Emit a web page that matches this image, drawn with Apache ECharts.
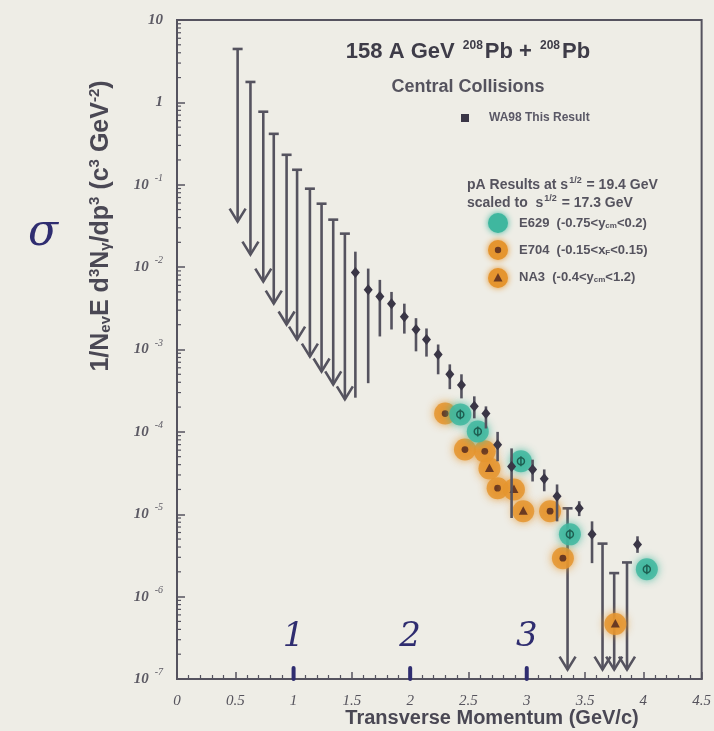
<!DOCTYPE html>
<html>
<head>
<meta charset="utf-8">
<script src="https://cdn.jsdelivr.net/npm/echarts@6/dist/echarts.min.js"></script>
<style>
html, body { margin: 0; padding: 0; background: #eeede6; }
#chart { width: 714px; height: 731px; }
</style>
</head>
<body>
<div id="chart"></div>
<script>
// axis ticks
const xTicks = [0, 0.5, 1, 1.5, 2, 2.5, 3, 3.5, 4, 4.5]
const yDecades = [-7, -6, -5, -4, -3, -2, -1, 0]
const minorMult = [2, 3, 4, 5, 6, 7, 8, 9]

// WA98 upper limits at low pT: top of bar, arrow tip
const limPt = [0.52, 0.63, 0.74, 0.83, 0.94, 1.03, 1.14, 1.24, 1.34, 1.44]
const limTop = [4.45, 1.77, 0.77, 0.415, 0.231, 0.152, 0.0896, 0.0589, 0.0377, 0.0255]
const limTip = [0.0357, 0.0142, 0.00667, 0.00361, 0.00201, 0.00132, 0.00082, 0.00054, 0.000377, 0.000248]

// WA98 measured points with error bars
const wa98Pt = [1.53, 1.64, 1.74, 1.84, 1.95, 2.05, 2.14, 2.24, 2.34, 2.44, 2.55, 2.65, 2.75, 2.87, 3.05, 3.15, 3.26, 3.45, 3.56, 3.95]
const wa98Y = [8.6e-3, 5.3e-3, 4.4e-3, 3.6e-3, 2.5e-3, 1.75e-3, 1.32e-3, 8.7e-4, 5.0e-4, 3.7e-4, 2.04e-4, 1.67e-4, 7.0e-5, 3.8e-5, 3.5e-5, 2.7e-5, 1.65e-5, 1.18e-5, 5.7e-6, 4.3e-6]
const wa98Hi = [1.54e-2, 9.6e-3, 7.0e-3, 5.0e-3, 3.6e-3, 2.4e-3, 1.8e-3, 1.15e-3, 6.6e-4, 5.0e-4, 2.7e-4, 2.04e-4, 1.0e-4, 6.3e-5, 4.6e-5, 3.5e-5, 2.3e-5, 1.44e-5, 8.2e-6, 5.4e-6]
const wa98Lo = [2.6e-4, 3.9e-4, 1.44e-3, 1.75e-3, 1.56e-3, 9.5e-4, 8.2e-4, 5.0e-4, 3.3e-4, 2.55e-4, 1.46e-4, 1.1e-4, 4.4e-5, 9.0e-6, 2.5e-5, 1.9e-5, 8.2e-6, 9.5e-6, 2.55e-6, 3.4e-6]

// WA98 upper limits at high pT (down to the axis)
const hiLimPt = [3.35, 3.65, 3.75, 3.86]
const hiLimTop = [1.18e-5, 4.4e-6, 1.93e-6, 2.6e-6]
const hiLimTip = [1.3e-7, 1.3e-7, 1.3e-7, 1.3e-7]

// scaled pA results
const e629Pt = [2.43, 2.58, 2.95, 3.37, 4.03]
const e629Y = [1.63e-4, 1.01e-4, 4.4e-5, 5.7e-6, 2.15e-6]
const e704Pt = [2.30, 2.47, 2.64, 2.75, 3.20, 3.31]
const e704Y = [1.67e-4, 6.1e-5, 5.8e-5, 2.07e-5, 1.09e-5, 2.93e-6]
const na3Pt = [2.68, 2.89, 2.97, 3.76]
const na3Y = [3.6e-5, 2.0e-5, 1.09e-5, 4.65e-7]

// handwritten marks on the x axis
const handPt = [1, 2, 3]
const handText = ["1", "2", "3"]

const ink = "#55535f"
const dark = "#3a3646"
const teal = "#3fb79f"
const orange = "#e5952f"
const pen = "#2f2d70"
const txt = "#4a4854"

const zip = (...arrs) => arrs[0].map((_, i) => arrs.map(a => a[i]))

const yMinor = []
yDecades.forEach(d => minorMult.forEach(m => yMinor.push([0, m * Math.pow(10, d)])))

const renderLimit = (params, api) => {
  const x = api.value(0)
  const top = api.coord([x, api.value(1)])
  const tip = api.coord([x, api.value(2)])
  const st = { stroke: ink, lineWidth: 2.6, fill: null }
  return {
    type: "group",
    children: [
      { type: "line", shape: { x1: top[0], y1: top[1], x2: tip[0], y2: tip[1] }, style: st },
      { type: "line", shape: { x1: top[0] - 5, y1: top[1], x2: top[0] + 5, y2: top[1] }, style: st },
      { type: "polyline", shape: { points: [[tip[0] - 8, tip[1] - 13], [tip[0], tip[1]], [tip[0] + 8, tip[1] - 13]] }, style: st },
    ],
  }
}

const renderPoint = (params, api) => {
  const x = api.value(0)
  const p = api.coord([x, api.value(1)])
  const hi = api.coord([x, api.value(2)])
  const lo = api.coord([x, api.value(3)])
  return {
    type: "group",
    children: [
      { type: "line", shape: { x1: hi[0], y1: hi[1], x2: lo[0], y2: lo[1] }, style: { stroke: ink, lineWidth: 2.6 } },
      { type: "polygon", shape: { points: [[p[0], p[1] - 5.5], [p[0] + 4.5, p[1]], [p[0], p[1] + 5.5], [p[0] - 4.5, p[1]]] }, style: { fill: dark } },
    ],
  }
}

const makeBlob = (color, inner) => (params, api) => {
  const p = api.coord([api.value(0), api.value(1)])
  const kids = [
    { type: "circle", shape: { cx: p[0], cy: p[1], r: 11 }, style: { fill: color, opacity: 0.85, shadowBlur: 8, shadowColor: color } },
  ]
  if (inner === "dot") {
    kids.push({ type: "circle", shape: { cx: p[0], cy: p[1], r: 3.4 }, style: { fill: "#6a3a22" } })
  } else if (inner === "tri") {
    kids.push({ type: "polygon", shape: { points: [[p[0], p[1] - 5], [p[0] + 4.5, p[1] + 3.5], [p[0] - 4.5, p[1] + 3.5]] }, style: { fill: "#6a3a22" } })
  } else {
    kids.push({ type: "circle", shape: { cx: p[0], cy: p[1], r: 3.5 }, style: { fill: null, stroke: "#1f5f52", lineWidth: 1.5 } })
    kids.push({ type: "line", shape: { x1: p[0], y1: p[1] - 5, x2: p[0], y2: p[1] + 5 }, style: { stroke: "#1f5f52", lineWidth: 1.5 } })
  }
  return { type: "group", children: kids }
}

const renderMinor = (params, api) => {
  const p = api.coord([0, api.value(1)])
  return { type: "line", shape: { x1: p[0], y1: p[1], x2: p[0] + 4, y2: p[1] }, style: { stroke: ink, lineWidth: 1.2 } }
}

const renderHand = (params, api) => {
  const p = api.coord([api.value(0), 1e-7])
  return {
    type: "group",
    children: [
      { type: "rect", shape: { x: p[0] - 2, y: p[1] - 13, width: 4, height: 15, r: 2 }, style: { fill: pen } },
      {
        type: "text",
        style: {
          x: p[0], y: p[1] - 42, text: handText[params.dataIndex], align: "center", verticalAlign: "middle",
          font: "italic 34px 'DejaVu Serif'", fill: pen,
        },
      },
    ],
  }
}

const chart = echarts.init(document.getElementById("chart"))

const supLabel = v => {
  const e = Math.round(Math.log10(v))
  if (e === 1) return "{b|10}"
  if (e === 0) return "{b|1}"
  return "{b|10}{s|" + e + "}"
}

const option = {
  backgroundColor: "#eeede6",
  animation: false,
  grid: { left: 177, right: 12, top: 20, bottom: 52, show: true, borderColor: ink, borderWidth: 2 },
  xAxis: {
    type: "value", min: 0, max: 4.5, interval: 0.5,
    axisLine: { lineStyle: { color: ink, width: 2 } },
    axisTick: { inside: true, length: 7, lineStyle: { color: ink, width: 1.5 } },
    minorTick: { show: true, splitNumber: 5, length: 4, lineStyle: { color: ink, width: 1.2 } },
    splitLine: { show: false },
    axisLabel: {
      margin: 15, color: "#55535c", fontFamily: "Liberation Serif", fontStyle: "italic", fontSize: 15,
      formatter: v => String(v),
    },
  },
  yAxis: {
    type: "log", logBase: 10, min: 1e-7, max: 10, splitNumber: 8,
    axisLine: { lineStyle: { color: ink, width: 2 } },
    axisTick: { inside: true, length: 8, lineStyle: { color: ink, width: 1.5 } },
    splitLine: { show: false },
    axisLabel: {
      margin: 14, formatter: supLabel,
      rich: {
        b: { color: "#5c5a64", fontFamily: "Liberation Serif", fontStyle: "italic", fontWeight: "bold", fontSize: 15 },
        s: { color: "#5c5a64", fontFamily: "Liberation Serif", fontStyle: "italic", fontSize: 10, padding: [0, 0, 13, 6] },
      },
    },
  },
  series: [
    { type: "custom", name: "minor", renderItem: renderMinor, data: yMinor, clip: true, silent: true },
    { type: "custom", name: "limits", renderItem: renderLimit, data: zip(limPt, limTop, limTip) },
    { type: "custom", name: "hiLimits", renderItem: renderLimit, data: zip(hiLimPt, hiLimTop, hiLimTip) },
    { type: "custom", name: "E704", renderItem: makeBlob(orange, "dot"), data: zip(e704Pt, e704Y), z: 3 },
    { type: "custom", name: "NA3", renderItem: makeBlob(orange, "tri"), data: zip(na3Pt, na3Y), z: 3 },
    { type: "custom", name: "E629", renderItem: makeBlob(teal, "phi"), data: zip(e629Pt, e629Y), z: 3 },
    { type: "custom", name: "WA98", renderItem: renderPoint, data: zip(wa98Pt, wa98Y, wa98Hi, wa98Lo), z: 4 },
    { type: "custom", name: "hand", renderItem: renderHand, data: handPt.map(v => [v]), clip: false, z: 5 },
  ],
  graphic: [
    {
      type: "text", x: 468, y: 52,
      style: {
        text: "{a|158 A GeV }{s|208}{a|Pb + }{s|208}{a|Pb}", align: "center", verticalAlign: "middle",
        rich: {
          a: { fontFamily: "Liberation Sans", fontWeight: "bold", fontSize: 22, fill: "#3e3c48" },
          s: { fontFamily: "Liberation Sans", fontWeight: "bold", fontSize: 12, fill: "#3e3c48", padding: [0, 2, 13, 2] },
        },
      },
    },
    { type: "text", x: 468, y: 87, style: { text: "Central Collisions", align: "center", verticalAlign: "middle", font: "bold 18px 'Liberation Sans'", fill: "#55535e" } },
    { type: "rect", x: 461, y: 114, shape: { width: 8, height: 8 }, style: { fill: dark } },
    { type: "text", x: 489, y: 118, style: { text: "WA98 This Result", verticalAlign: "middle", font: "bold 12px 'Liberation Sans'", fill: "#5a5866" } },
    {
      type: "text", x: 467, y: 194,
      style: {
        text: "{a|pA Results at s}{s|1/2}{a| = 19.4 GeV}\n{a|scaled to  s}{s|1/2}{a| = 17.3 GeV}",
        verticalAlign: "middle",
        rich: {
          a: { font: "bold 14px 'Liberation Sans'", fill: "#55535e", lineHeight: 18 },
          s: { font: "bold 9px 'Liberation Sans'", fill: "#55535e", padding: [0, 1, 8, 1] },
        },
      },
    },
    { type: "circle", shape: { cx: 498, cy: 223, r: 10 }, style: { fill: teal, shadowBlur: 6, shadowColor: teal } },
    { type: "circle", shape: { cx: 498, cy: 250, r: 10 }, style: { fill: orange, shadowBlur: 6, shadowColor: orange } },
    { type: "circle", shape: { cx: 498, cy: 250, r: 3.2 }, style: { fill: "#6a3a22" } },
    { type: "circle", shape: { cx: 498, cy: 278, r: 10 }, style: { fill: orange, shadowBlur: 6, shadowColor: orange } },
    { type: "polygon", shape: { points: [[498, 273], [502.5, 281.5], [493.5, 281.5]] }, style: { fill: "#6a3a22" } },
    {
      type: "text", x: 519, y: 250,
      style: {
        text: "{a|E629  (-0.75<y}{b|cm}{a|<0.2)}\n{a|E704  (-0.15<x}{b|F}{a|<0.15)}\n{a|NA3  (-0.4<y}{b|cm}{a|<1.2)}",
        verticalAlign: "middle",
        rich: {
          a: { font: "bold 13px 'Liberation Sans'", fill: "#55535e", lineHeight: 27 },
          b: { font: "bold 8px 'Liberation Sans'", fill: "#55535e", padding: [6, 0, 0, 0], lineHeight: 27 },
        },
      },
    },
    {
      type: "text", x: 101, y: 226, rotation: Math.PI / 2,
      style: {
        text: "{a|1/N}{b|ev}{a|E d}{s|3}{a|N}{b|γ}{a|/dp}{s|3}{a| (c}{s|3}{a| GeV}{s|-2}{a|)}",
        align: "center", verticalAlign: "middle",
        rich: {
          a: { font: "bold 25px 'Liberation Sans'", fill: txt },
          b: { font: "bold 15px 'Liberation Sans'", fill: txt, padding: [9, 0, 0, 0] },
          s: { font: "bold 15px 'Liberation Sans'", fill: txt, padding: [0, 0, 13, 0] },
        },
      },
    },
    {
      type: "text", x: 492, y: 718,
      style: { text: "Transverse Momentum (GeV/c)", align: "center", verticalAlign: "middle", font: "bold 20px 'Liberation Sans'", fill: txt },
    },
    { type: "text", x: 28, y: 212, style: { text: "σ", font: "italic 44px 'DejaVu Serif'", fill: pen } },
  ],
}

chart.setOption(option)
</script>
</body>
</html>
